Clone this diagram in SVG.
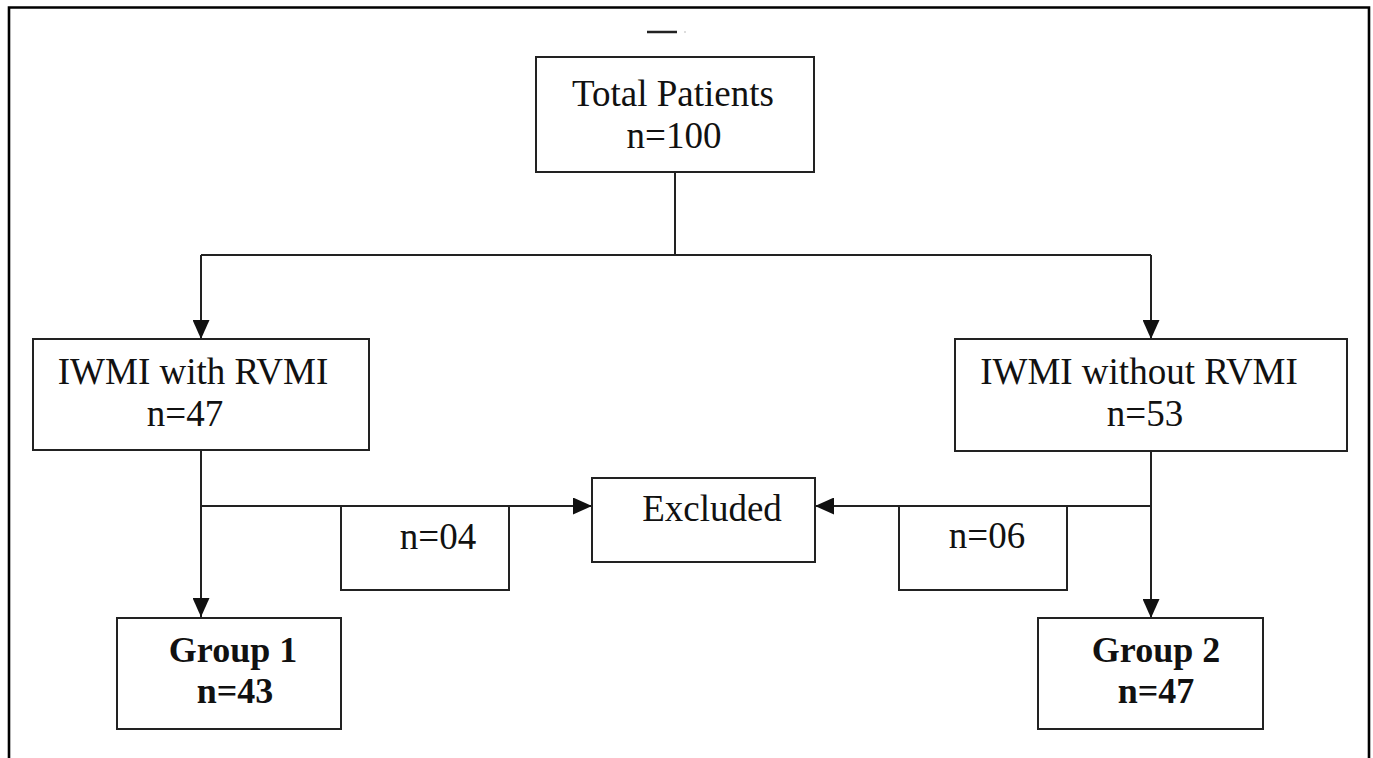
<svg xmlns="http://www.w3.org/2000/svg" width="1373" height="758" viewBox="0 0 1373 758">
<defs>
<style>
.box{fill:#fff;stroke:#222;stroke-width:2}
.ln{fill:none;stroke:#222;stroke-width:2}
.t{font-family:"Liberation Serif","Times New Roman",serif;font-size:37px;fill:#111;text-anchor:middle}
.b{font-weight:bold;font-size:36px}
</style>
<marker id="ah" markerUnits="userSpaceOnUse" markerWidth="19" markerHeight="17" refX="19" refY="8.5" orient="auto">
<path d="M0,0 L19,8.5 L0,17 z" fill="#111"/>
</marker>
</defs>
<rect width="1373" height="758" fill="#fff"/>
<path d="M9,758 V7.5 H1369 V758" fill="none" stroke="#000" stroke-width="2.6"/>
<line x1="647" y1="32" x2="677" y2="32" stroke="#222" stroke-width="2.5"/>
<rect x="684.5" y="31" width="1" height="2" fill="#bbb"/>
<g id="connectors">
<line class="ln" x1="675" y1="172" x2="675" y2="255"/>
<line class="ln" x1="201" y1="255" x2="1151" y2="255"/>
<line class="ln" x1="201" y1="255" x2="201" y2="339" marker-end="url(#ah)"/>
<line class="ln" x1="1151" y1="255" x2="1151" y2="339" marker-end="url(#ah)"/>
<line class="ln" x1="201" y1="450" x2="201" y2="617" marker-end="url(#ah)"/>
<line class="ln" x1="201" y1="506" x2="592" y2="506" marker-end="url(#ah)"/>
<line class="ln" x1="1151" y1="451" x2="1151" y2="618" marker-end="url(#ah)"/>
<line class="ln" x1="1151" y1="506" x2="815" y2="506" marker-end="url(#ah)"/>
</g>
<g id="total">
<rect class="box" x="536" y="57" width="278" height="115"/>
<text class="t" x="673" y="106">Total Patients</text>
<text class="t" x="674" y="148">n=100</text>
</g>
<g id="with-rvmi">
<rect class="box" x="33" y="339" width="336" height="111"/>
<text class="t" x="193" y="384">IWMI with RVMI</text>
<text class="t" x="185" y="426">n=47</text>
</g>
<g id="without-rvmi">
<rect class="box" x="955" y="339" width="392" height="112"/>
<text class="t" x="1139" y="384">IWMI without RVMI</text>
<text class="t" x="1145" y="426">n=53</text>
</g>
<g id="excl-left">
<path class="ln" d="M341,506 V590 H509 V506"/>
<text class="t" x="438" y="549">n=04</text>
</g>
<g id="excl-right">
<path class="ln" d="M899,506 V590 H1067 V506"/>
<text class="t" x="987" y="548">n=06</text>
</g>
<g id="excluded">
<rect class="box" x="592" y="478" width="223" height="84"/>
<text class="t" x="712" y="521">Excluded</text>
</g>
<g id="group1">
<rect class="box" x="117" y="618" width="224" height="111"/>
<text class="t b" x="233" y="662">Group 1</text>
<text class="t b" x="235" y="703">n=43</text>
</g>
<g id="group2">
<rect class="box" x="1038" y="618" width="225" height="111"/>
<text class="t b" x="1156" y="662">Group 2</text>
<text class="t b" x="1156" y="703">n=47</text>
</g>
</svg>
